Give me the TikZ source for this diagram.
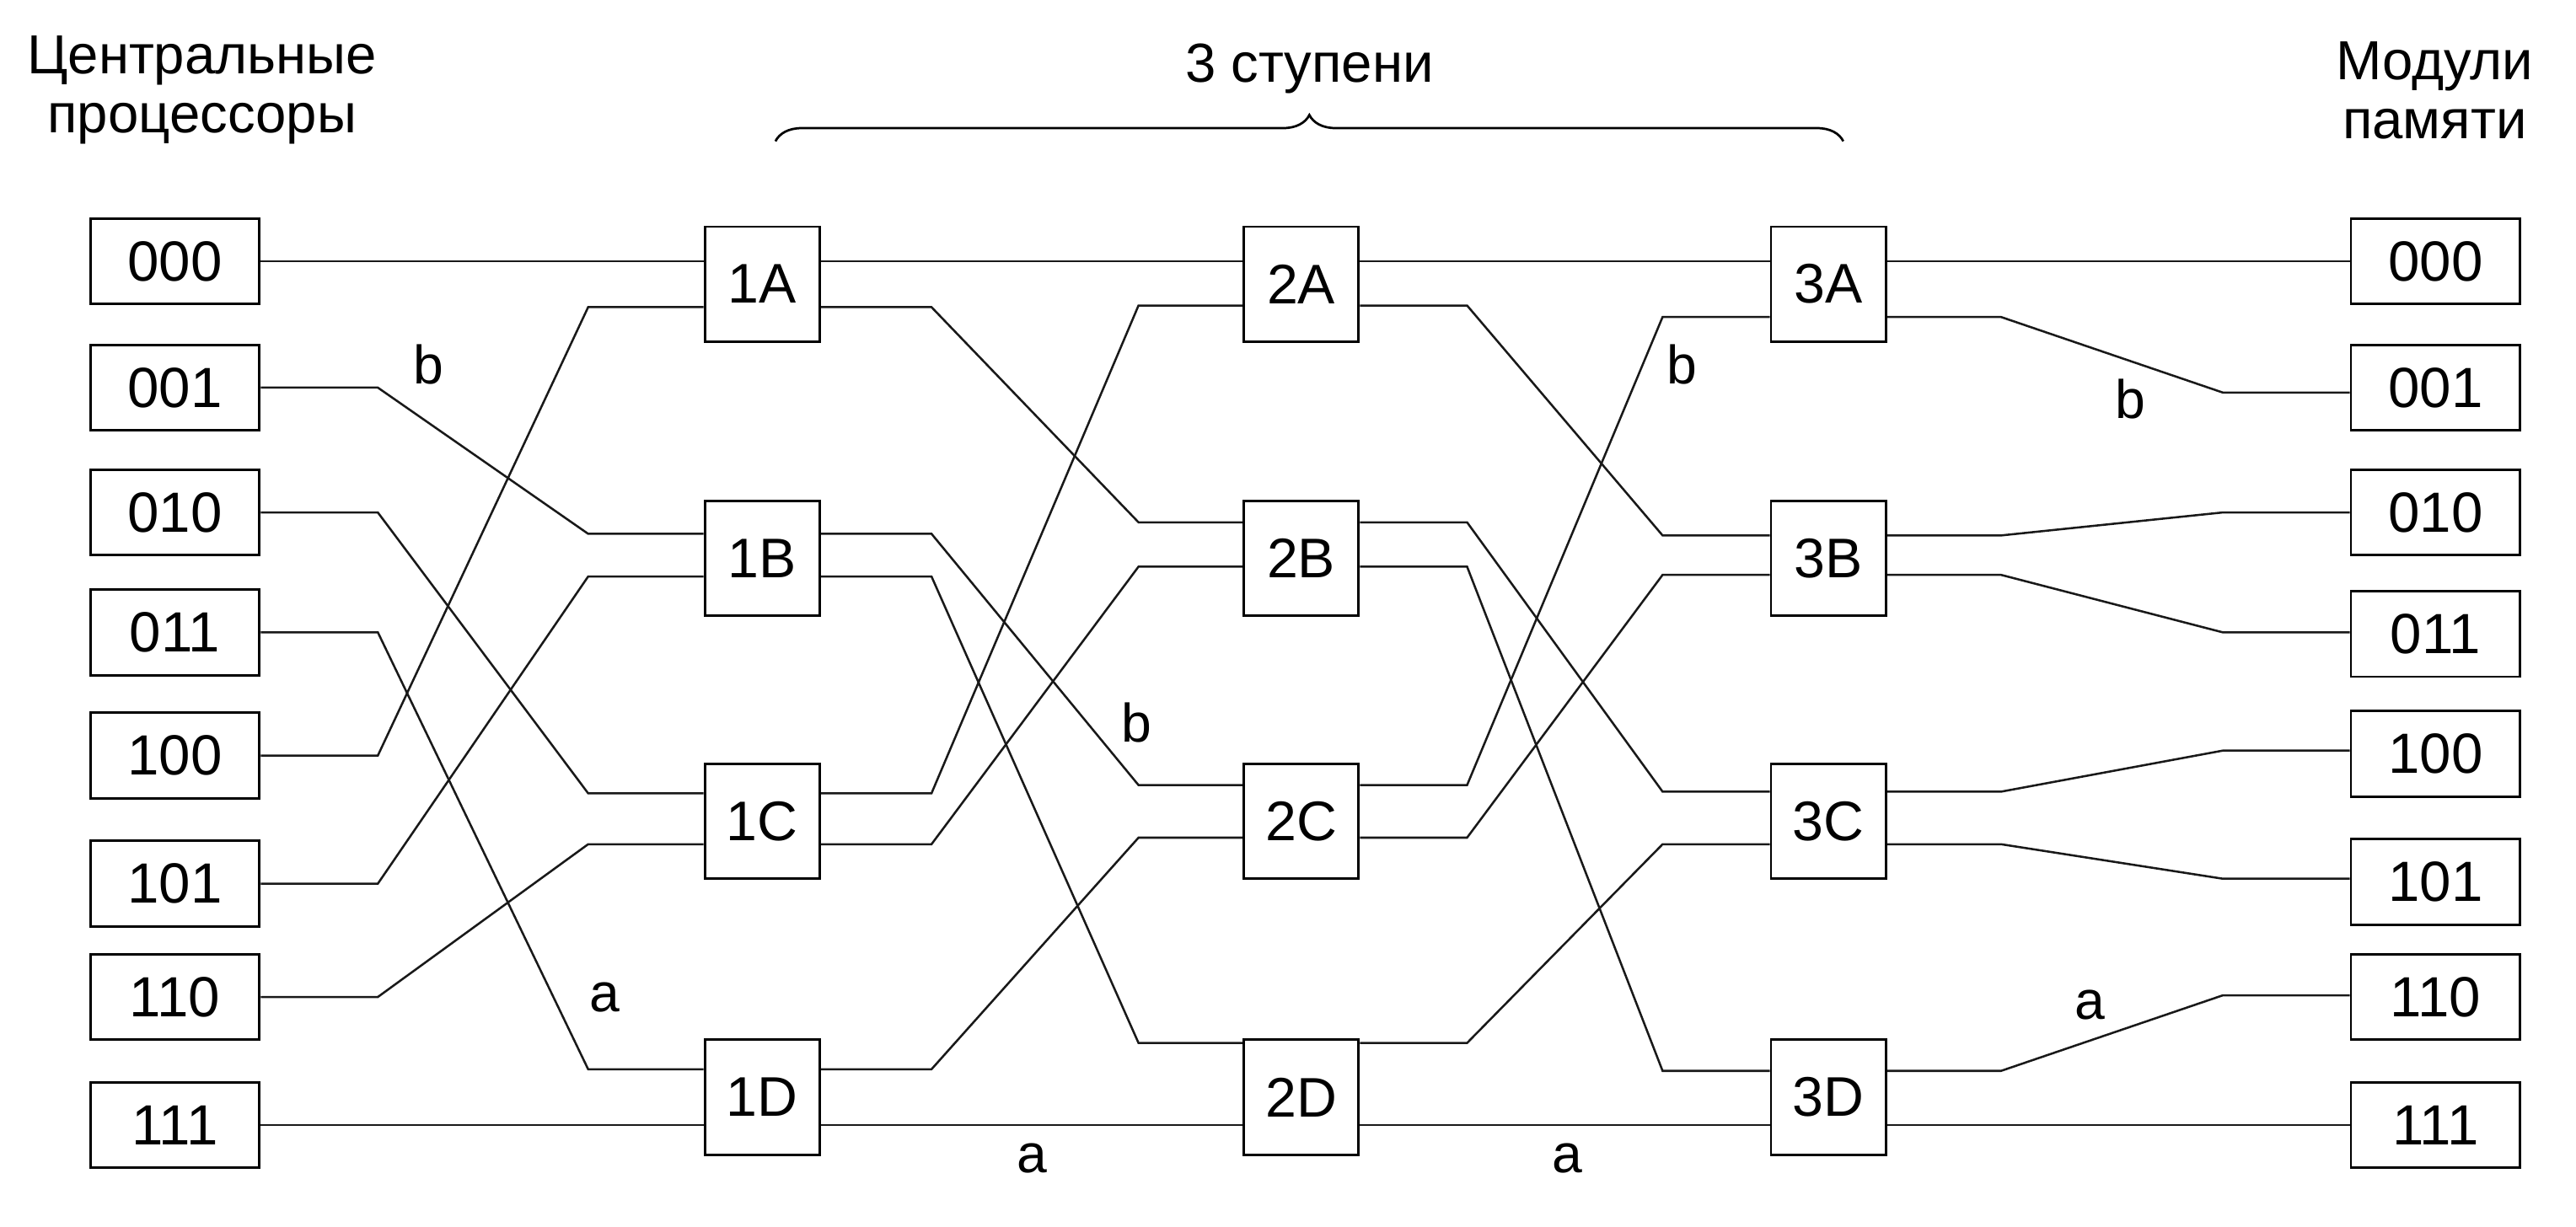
\documentclass[tikz,border=0pt]{standalone}
\usepackage{fontspec}
\setmainfont{Liberation Sans}
\usetikzlibrary{decorations.pathreplacing}
\tikzset{
  wire/.style={line width=1.3pt, black!90},
  iobox/.style={draw, line width=1.5pt, minimum width=103pt, minimum height=52pt, inner sep=0pt, font=\fontsize{34.5}{36}\selectfont},
  swbox/.style={draw, line width=1.5pt, minimum width=70pt, minimum height=70pt, inner sep=0pt, font=\fontsize{34}{36}\selectfont},
  lbl/.style={inner sep=0pt, font=\fontsize{33}{36}\selectfont},
  hdr/.style={inner sep=0pt, align=center, font=\fontsize{33.5}{36}\selectfont}
}
\begin{document}
\begin{tikzpicture}[x=1pt,y=-1pt]
\useasboundingbox (0,0) rectangle (1568,747);
% headers
\node[hdr] (hl) at (123,55) {Центральные\\процессоры};
\node[hdr] (hr) at (1482,55) {Модули\\памяти};
\node[lbl, font=\fontsize{33.5}{36}\selectfont] (hs) at (797,42) {3 ступени};
\draw[line width=1.4pt, decorate, decoration={brace, amplitude=16pt}] (472,86) -- (1122,86);
% left boxes
\foreach \n/\y in {000/159, 001/236, 010/312, 011/385, 100/460, 101/538, 110/607, 111/685}
  \node[iobox] (L\n) at (106.5,\y) {\n};
% right boxes
\foreach \n/\y in {000/159, 001/236, 010/312, 011/386, 100/459, 101/537, 110/607, 111/685}
  \node[iobox] (R\n) at (1482.5,\y) {\n};
% switches
\foreach \s/\x in {1/464, 2/792, 3/1113}
  \foreach \r/\y in {A/173, B/340, C/500, D/668}
    \node[swbox] (S\s\r) at (\x,\y) {\s\r};
% inputs -> stage 1
\draw[wire] (L000.east) -- (S1A.west |- 0,159);
\draw[wire] (L001.east) -- (230,236) -- (358,325) -- (S1B.west |- 0,325);
\draw[wire] (L010.east) -- (230,312) -- (358,483) -- (S1C.west |- 0,483);
\draw[wire] (L011.east) -- (230,385) -- (358,651) -- (S1D.west |- 0,651);
\draw[wire] (L100.east) -- (230,460) -- (358,187) -- (S1A.west |- 0,187);
\draw[wire] (L101.east) -- (230,538) -- (358,351) -- (S1B.west |- 0,351);
\draw[wire] (L110.east) -- (230,607) -- (358,514) -- (S1C.west |- 0,514);
\draw[wire] (L111.east) -- (S1D.west |- 0,685);
% stage 1 -> stage 2
\draw[wire] (S1A.east |- 0,159) -- (S2A.west |- 0,159);
\draw[wire] (S1A.east |- 0,187) -- (567,187) -- (693,318) -- (S2B.west |- 0,318);
\draw[wire] (S1B.east |- 0,325) -- (567,325) -- (693,478) -- (S2C.west |- 0,478);
\draw[wire] (S1B.east |- 0,351) -- (567,351) -- (693,635) -- (S2D.west |- 0,635);
\draw[wire] (S1C.east |- 0,483) -- (567,483) -- (693,186) -- (S2A.west |- 0,186);
\draw[wire] (S1C.east |- 0,514) -- (567,514) -- (693,345) -- (S2B.west |- 0,345);
\draw[wire] (S1D.east |- 0,651) -- (567,651) -- (693,510) -- (S2C.west |- 0,510);
\draw[wire] (S1D.east |- 0,685) -- (S2D.west |- 0,685);
% stage 2 -> stage 3
\draw[wire] (S2A.east |- 0,159) -- (S3A.west |- 0,159);
\draw[wire] (S2A.east |- 0,186) -- (893,186) -- (1012,326) -- (S3B.west |- 0,326);
\draw[wire] (S2B.east |- 0,318) -- (893,318) -- (1012,482) -- (S3C.west |- 0,482);
\draw[wire] (S2B.east |- 0,345) -- (893,345) -- (1012,652) -- (S3D.west |- 0,652);
\draw[wire] (S2C.east |- 0,478) -- (893,478) -- (1012,193) -- (S3A.west |- 0,193);
\draw[wire] (S2C.east |- 0,510) -- (893,510) -- (1012,350) -- (S3B.west |- 0,350);
\draw[wire] (S2D.east |- 0,635) -- (893,635) -- (1012,514) -- (S3C.west |- 0,514);
\draw[wire] (S2D.east |- 0,685) -- (S3D.west |- 0,685);
% stage 3 -> outputs
\draw[wire] (S3A.east |- 0,159) -- (R000.west |- 0,159);
\draw[wire] (S3A.east |- 0,193) -- (1218,193) -- (1353,239) -- (R001.west |- 0,239);
\draw[wire] (S3B.east |- 0,326) -- (1218,326) -- (1353,312) -- (R010.west |- 0,312);
\draw[wire] (S3B.east |- 0,350) -- (1218,350) -- (1353,385) -- (R011.west |- 0,385);
\draw[wire] (S3C.east |- 0,482) -- (1218,482) -- (1353,457) -- (R100.west |- 0,457);
\draw[wire] (S3C.east |- 0,514) -- (1218,514) -- (1353,535) -- (R101.west |- 0,535);
\draw[wire] (S3D.east |- 0,652) -- (1218,652) -- (1353,606) -- (R110.west |- 0,606);
\draw[wire] (S3D.east |- 0,685) -- (R111.west |- 0,685);
% labels
\node[lbl] (b1) at (261,222) {b};
\node[lbl] (a1) at (368,607) {a};
\node[lbl] (b2) at (692,440) {b};
\node[lbl] (a2) at (628,705) {a};
\node[lbl] (b3) at (1024,222) {b};
\node[lbl] (a3) at (954,705) {a};
\node[lbl] (b4) at (1297,243) {b};
\node[lbl] (a4) at (1272,612) {a};
\end{tikzpicture}
\end{document}
